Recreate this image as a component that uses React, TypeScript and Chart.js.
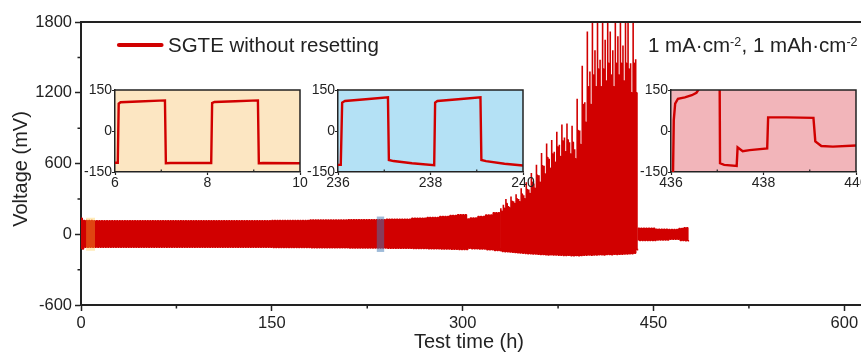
import React, { useEffect, useRef } from "react";
import { Chart, registerables } from "chart.js";

Chart.register(...registerables);

const FONT = "'Liberation Sans', Arial, Helvetica, sans-serif";
const INK = "#222222";
const RED = "#D10000";
Chart.defaults.font.family = FONT;
Chart.defaults.color = INK;

// ---------- main chart text ----------
const seriesLabel = "SGTE without resetting";
const conditionParts = ["1 mA·cm", "-2", ", 1 mAh·cm", "-2"];
const xTitle = "Test time (h)";
const yTitle = "Voltage (mV)";

// ---------- main axes ----------
const xMin = 0;
const xMax = 630;
const yMin = -600;
const yMax = 1800;
const xMajorTicks = [0, 150, 300, 450, 600];
const xMinorTicks = [75, 225, 375, 525];
const yMajorTicks = [-600, 0, 600, 1200, 1800];
const yMinorTicks = [-300, 300, 900, 1500];

// ---------- main trace (2 h galvanostatic cycles) ----------
const cycleHours = 2;
const testEnd = 478;
// stable band: plateau voltages of cycles starting at/after each knot time
const bandTimes = [0, 2, 10, 150, 180, 210, 240, 260, 272, 282, 290, 296, 304, 306, 312, 318, 324];
const bandHigh = [136, 116, 115, 117, 120, 124, 128, 136, 143, 150, 158, 166, 130, 138, 150, 163, 183];
const bandLow = [-126, -111, -111, -113, -115, -117, -119, -121, -123, -125, -127, -129, -118, -122, -125, -131, -138];
// short-circuit growth region, one value per cycle from spikeStart
const spikeStart = 330;
const spikePeak = [
  220, 250, 300, 240, 320, 280, 340, 300, 390, 330,
  440, 380, 520, 430, 590, 500, 690, 580, 770, 640,
  800, 700, 870, 760, 930, 820, 940, 780, 920, 720,
  1150, 880, 1430, 1120, 1720, 1380, 1850, 1560, 1900, 1480,
  1900, 1650, 1900, 1720, 1560, 1900, 1680, 1900, 1600, 1900,
  1820, 1450, 1900, 1485,
];
const spikePlateau = [
  195, 220, 260, 225, 280, 260, 300, 275, 340, 300,
  380, 345, 440, 390, 500, 440, 580, 510, 650, 560,
  680, 610, 740, 660, 790, 700, 800, 680, 780, 640,
  880, 760, 1100, 950, 1250, 1100, 1350, 1250, 1400, 1250,
  1400, 1300, 1450, 1350, 1250, 1450, 1350, 1450, 1300, 1450,
  1400, 1200, 1450, 1200,
];
const spikeLow = [
  -145, -147, -149, -150, -152, -154, -156, -158, -160, -162,
  -164, -165, -167, -168, -170, -171, -172, -173, -175, -174,
  -176, -175, -177, -178, -179, -180, -178, -181, -182, -180,
  -182, -180, -178, -177, -176, -178, -175, -176, -174, -173,
  -175, -172, -171, -173, -170, -171, -169, -170, -168, -167,
  -166, -165, -160, -130,
];
const spikeEnd = spikeStart + spikePeak.length * cycleHours;
// after failure: small-amplitude tail
const tailTimes = [438, 452, 462, 470, 474];
const tailHigh = [50, 43, 40, 48, 56];
const tailLow = [-54, -48, -43, -52, -56];

// highlighted windows on the main trace (h, mV)
const highlightFrom = [4, 232.5];
const highlightTo = [11, 238.3];
const highlightLow = [-140, -150];
const highlightHigh = [140, 150];
const highlightColors = ["rgba(255,200,50,0.34)", "rgba(62,120,180,0.5)"];

// ---------- insets ----------
const insetYTicks = [-150, 0, 150];

const inset1Time = [6, 6.06, 6.08, 6.12, 6.5, 7.08, 7.1, 7.2, 8.08, 8.1, 8.15, 8.6, 9.09, 9.11, 9.2, 10];
const inset1Volt = [-116, -116, 100, 105, 108, 112, -118, -117, -117, 102, 106, 109, 112, -118, -117, -118];
const inset1XTicks = [6, 8, 10];
const inset1XMinor = [7, 9];

const inset2Time = [236, 236.06, 236.09, 236.15, 236.6, 237.08, 237.1, 237.2, 237.6, 238.08, 238.1, 238.15, 238.6, 239.08, 239.1, 239.2, 239.6, 240];
const inset2Volt = [-124, -124, 104, 110, 116, 123, -106, -110, -118, -125, 104, 110, 116, 123, -106, -110, -120, -126];
const inset2XTicks = [236, 238, 240];
const inset2XMinor = [237, 239];

const inset3Time = [436.04, 436.06, 436.09, 436.15, 436.3, 436.45, 436.55, 436.65, 437.0, 437.05, 437.06, 437.15, 437.42, 437.44, 437.55, 437.7, 438.08, 438.1, 438.5, 439.08, 439.12, 439.25, 439.5, 440];
const inset3Volt = [-200, 40, 100, 118, 123, 131, 140, 165, 250, 250, -118, -124, -128, -60, -74, -70, -64, 50, 50, 48, -38, -55, -57, -53];
const inset3XTicks = [436, 438, 440];
const inset3XMinor = [437, 439];

const insetBg = ["#FCE6C2", "#B4E1F5", "#F2B5BA"];

// ---------- helpers ----------
function stepValue(times: number[], vals: number[], t: number) {
  let v = vals[0];
  for (let i = 0; i < times.length; i++) if (times[i] <= t) v = vals[i];
  return v;
}

type Pt = { x: number; y: number };

// square-wave cycles: charge half then discharge half
function bandTrace(from: number, to: number, times: number[], high: number[], low: number[]) {
  const pts: Pt[] = [];
  const half = cycleHours / 2;
  for (let t = from; t < to; t += cycleHours) {
    const hi = stepValue(times, high, t);
    const lo = stepValue(times, low, t);
    if (t === from) pts.push({ x: t, y: lo });
    pts.push({ x: t, y: hi }, { x: t + half, y: hi }, { x: t + half, y: lo }, { x: t + cycleHours, y: lo });
  }
  return pts;
}

// growth region: a voltage spike at the start of each charge half, then a plateau
function spikeTrace() {
  const pts: Pt[] = [];
  const half = cycleHours / 2;
  for (let i = 0; i < spikePeak.length; i++) {
    const t = spikeStart + i * cycleHours;
    if (i === 0) pts.push({ x: t, y: spikeLow[0] });
    pts.push(
      { x: t, y: spikePeak[i] },
      { x: t, y: spikePlateau[i] },
      { x: t + half, y: spikePlateau[i] },
      { x: t + half, y: spikeLow[i] },
      { x: t + cycleHours, y: spikeLow[i] }
    );
  }
  return pts;
}

const plainNumber = (v: any) => String(v);

const mainDecor = {
  id: "mainDecor",
  afterDatasetsDraw(chart: any) {
    const { ctx, chartArea, scales } = chart;
    const xs = scales.x;
    const ys = scales.y;
    ctx.save();
    ctx.beginPath();
    ctx.rect(chartArea.left, chartArea.top, chartArea.right - chartArea.left, chartArea.bottom - chartArea.top);
    ctx.clip();
    for (let i = 0; i < highlightFrom.length; i++) {
      const x1 = xs.getPixelForValue(highlightFrom[i]);
      const x2 = xs.getPixelForValue(highlightTo[i]);
      const y1 = ys.getPixelForValue(highlightHigh[i]);
      const y2 = ys.getPixelForValue(highlightLow[i]);
      ctx.fillStyle = highlightColors[i];
      ctx.fillRect(x1, y1, x2 - x1, y2 - y1);
    }
    ctx.restore();
  },
  afterDraw(chart: any) {
    const { ctx, chartArea, scales } = chart;
    const xs = scales.x;
    const ys = scales.y;
    const { left, top, right, bottom } = chartArea;
    ctx.save();
    ctx.strokeStyle = INK;
    ctx.lineWidth = 2;
    ctx.beginPath();
    ctx.moveTo(left - 1, top);
    ctx.lineTo(right, top);
    ctx.lineTo(right, bottom);
    ctx.stroke();
    // minor ticks
    ctx.lineWidth = 1.5;
    ctx.beginPath();
    for (const v of xMinorTicks) {
      const px = xs.getPixelForValue(v);
      ctx.moveTo(px, bottom);
      ctx.lineTo(px, bottom + 3.5);
    }
    for (const v of yMinorTicks) {
      const py = ys.getPixelForValue(v);
      ctx.moveTo(left, py);
      ctx.lineTo(left - 3.5, py);
    }
    ctx.stroke();

    ctx.fillStyle = INK;
    // axis titles
    ctx.font = `20px ${FONT}`;
    ctx.textAlign = "center";
    ctx.textBaseline = "alphabetic";
    ctx.fillText(xTitle, left + 388, 348);
    ctx.save();
    ctx.translate(26.5, top + 147);
    ctx.rotate(-Math.PI / 2);
    ctx.fillText(yTitle, 0, 0);
    ctx.restore();

    // legend
    ctx.strokeStyle = RED;
    ctx.lineWidth = 4.2;
    ctx.lineCap = "round";
    ctx.beginPath();
    ctx.moveTo(left + 38, top + 23);
    ctx.lineTo(left + 80.5, top + 23);
    ctx.stroke();
    ctx.font = `20.5px ${FONT}`;
    ctx.textAlign = "left";
    ctx.fillText(seriesLabel, left + 87, top + 30.3);

    // condition text with superscripts
    let x = 648;
    const base = top + 30.3;
    conditionParts.forEach((part, i) => {
      const sup = i % 2 === 1;
      ctx.font = sup ? `12.5px ${FONT}` : `20.5px ${FONT}`;
      ctx.fillText(part, x, sup ? base - 6.5 : base);
      x += ctx.measureText(part).width + (sup ? 0.5 : 0);
    });
    ctx.restore();
  },
};

function traceDataset(data: Pt[], width: number) {
  return {
    label: seriesLabel,
    data,
    borderColor: RED,
    borderWidth: width,
    borderJoinStyle: "bevel",
    pointRadius: 0,
    tension: 0,
    fill: false,
  };
}

function MainChart() {
  const ref = useRef<HTMLCanvasElement>(null);
  useEffect(() => {
    const chart = new Chart(ref.current as HTMLCanvasElement, {
      type: "line",
      data: {
        datasets: [
          traceDataset(bandTrace(0, spikeStart, bandTimes, bandHigh, bandLow), 1.5),
          traceDataset(spikeTrace(), 1.6),
          traceDataset(bandTrace(spikeEnd, testEnd, tailTimes, tailHigh, tailLow), 1.5),
        ],
      },
      options: {
        responsive: false,
        animation: false,
        devicePixelRatio: 1,
        layout: { padding: { left: 0, top: 22, right: 17.5, bottom: 0 } },
        plugins: { legend: { display: false }, tooltip: { enabled: false } },
        scales: {
          x: {
            type: "linear",
            min: xMin,
            max: xMax,
            afterBuildTicks: (s: any) => {
              s.ticks = xMajorTicks.map((v) => ({ value: v }));
            },
            afterFit: (s: any) => {
              s.height = 48;
            },
            ticks: { font: { size: 16.5, family: FONT }, color: INK, padding: 3, maxRotation: 0, autoSkip: false, callback: plainNumber },
            grid: { display: true, drawOnChartArea: false, tickLength: 6, tickColor: INK, tickWidth: 1.5 },
            border: { display: true, color: INK, width: 2 },
          },
          y: {
            type: "linear",
            min: yMin,
            max: yMax,
            afterBuildTicks: (s: any) => {
              s.ticks = yMajorTicks.map((v) => ({ value: v }));
            },
            afterFit: (s: any) => {
              s.width = 81;
            },
            ticks: { font: { size: 16.5, family: FONT }, color: INK, padding: 3, autoSkip: false, callback: plainNumber },
            grid: { display: true, drawOnChartArea: false, tickLength: 6, tickColor: INK, tickWidth: 1.5 },
            border: { display: true, color: INK, width: 2 },
          },
        },
      },
      plugins: [mainDecor],
    } as any);
    return () => chart.destroy();
  }, []);
  return (
    <canvas
      ref={ref}
      width={900}
      height={353}
      style={{ position: "absolute", left: 0, top: 0, width: 900, height: 353 }}
    />
  );
}

function makeInsetDecor(bg: string, minor: number[]) {
  return {
    id: "insetDecor",
    beforeDraw(chart: any) {
      const { ctx, chartArea } = chart;
      ctx.save();
      ctx.fillStyle = bg;
      ctx.fillRect(chartArea.left, chartArea.top, chartArea.right - chartArea.left, chartArea.bottom - chartArea.top);
      ctx.restore();
    },
    afterDraw(chart: any) {
      const { ctx, chartArea, scales } = chart;
      const { left, top, right, bottom } = chartArea;
      ctx.save();
      ctx.strokeStyle = INK;
      ctx.lineWidth = 1.5;
      ctx.beginPath();
      ctx.moveTo(left, top);
      ctx.lineTo(right, top);
      ctx.lineTo(right, bottom);
      ctx.stroke();
      ctx.lineWidth = 1.2;
      ctx.beginPath();
      for (const v of minor) {
        const px = scales.x.getPixelForValue(v);
        ctx.moveTo(px, bottom);
        ctx.lineTo(px, bottom - 2.5);
      }
      ctx.stroke();
      ctx.restore();
    },
  };
}

function Inset(props: {
  plotLeft: number;
  time: number[];
  volt: number[];
  xTicks: number[];
  xMinor: number[];
  bg: string;
}) {
  const { plotLeft, time, volt, xTicks, xMinor, bg } = props;
  const ref = useRef<HTMLCanvasElement>(null);
  useEffect(() => {
    const chart = new Chart(ref.current as HTMLCanvasElement, {
      type: "line",
      data: {
        datasets: [
          {
            data: time.map((t, i) => ({ x: t, y: volt[i] })),
            borderColor: RED,
            borderWidth: 2.4,
            pointRadius: 0,
            tension: 0,
            fill: false,
            clip: 0,
          },
        ],
      },
      options: {
        responsive: false,
        animation: false,
        devicePixelRatio: 1,
        layout: { padding: { left: 0, top: 10, right: 14, bottom: 0 } },
        plugins: { legend: { display: false }, tooltip: { enabled: false } },
        scales: {
          x: {
            type: "linear",
            min: xTicks[0],
            max: xTicks[xTicks.length - 1],
            afterBuildTicks: (s: any) => {
              s.ticks = xTicks.map((v) => ({ value: v }));
            },
            afterFit: (s: any) => {
              s.height = 24;
            },
            ticks: { font: { size: 14, family: FONT }, color: INK, padding: 0, maxRotation: 0, autoSkip: false, callback: plainNumber },
            grid: { display: true, drawOnChartArea: false, tickLength: 3, tickColor: INK, tickWidth: 1.2 },
            border: { display: true, color: INK, width: 1.5 },
          },
          y: {
            type: "linear",
            min: insetYTicks[0],
            max: insetYTicks[insetYTicks.length - 1],
            afterBuildTicks: (s: any) => {
              s.ticks = insetYTicks.map((v) => ({ value: v }));
            },
            afterFit: (s: any) => {
              s.width = 45;
            },
            ticks: { font: { size: 14, family: FONT }, color: INK, padding: 0, autoSkip: false, callback: plainNumber },
            grid: { display: true, drawOnChartArea: false, tickLength: 3, tickColor: INK, tickWidth: 1.2 },
            border: { display: true, color: INK, width: 1.5 },
          },
        },
      },
      plugins: [makeInsetDecor(bg, xMinor)],
    } as any);
    return () => chart.destroy();
  }, []);
  return (
    <canvas
      ref={ref}
      width={244}
      height={116}
      style={{ position: "absolute", left: plotLeft - 45, top: 80, width: 244, height: 116 }}
    />
  );
}

export default function App() {
  return (
    <div
      style={{
        position: "fixed",
        left: 0,
        top: 0,
        width: 861,
        height: 353,
        overflow: "hidden",
        background: "#ffffff",
      }}
    >
      <MainChart />
      <Inset plotLeft={115} time={inset1Time} volt={inset1Volt} xTicks={inset1XTicks} xMinor={inset1XMinor} bg={insetBg[0]} />
      <Inset plotLeft={338} time={inset2Time} volt={inset2Volt} xTicks={inset2XTicks} xMinor={inset2XMinor} bg={insetBg[1]} />
      <Inset plotLeft={671} time={inset3Time} volt={inset3Volt} xTicks={inset3XTicks} xMinor={inset3XMinor} bg={insetBg[2]} />
    </div>
  );
}
